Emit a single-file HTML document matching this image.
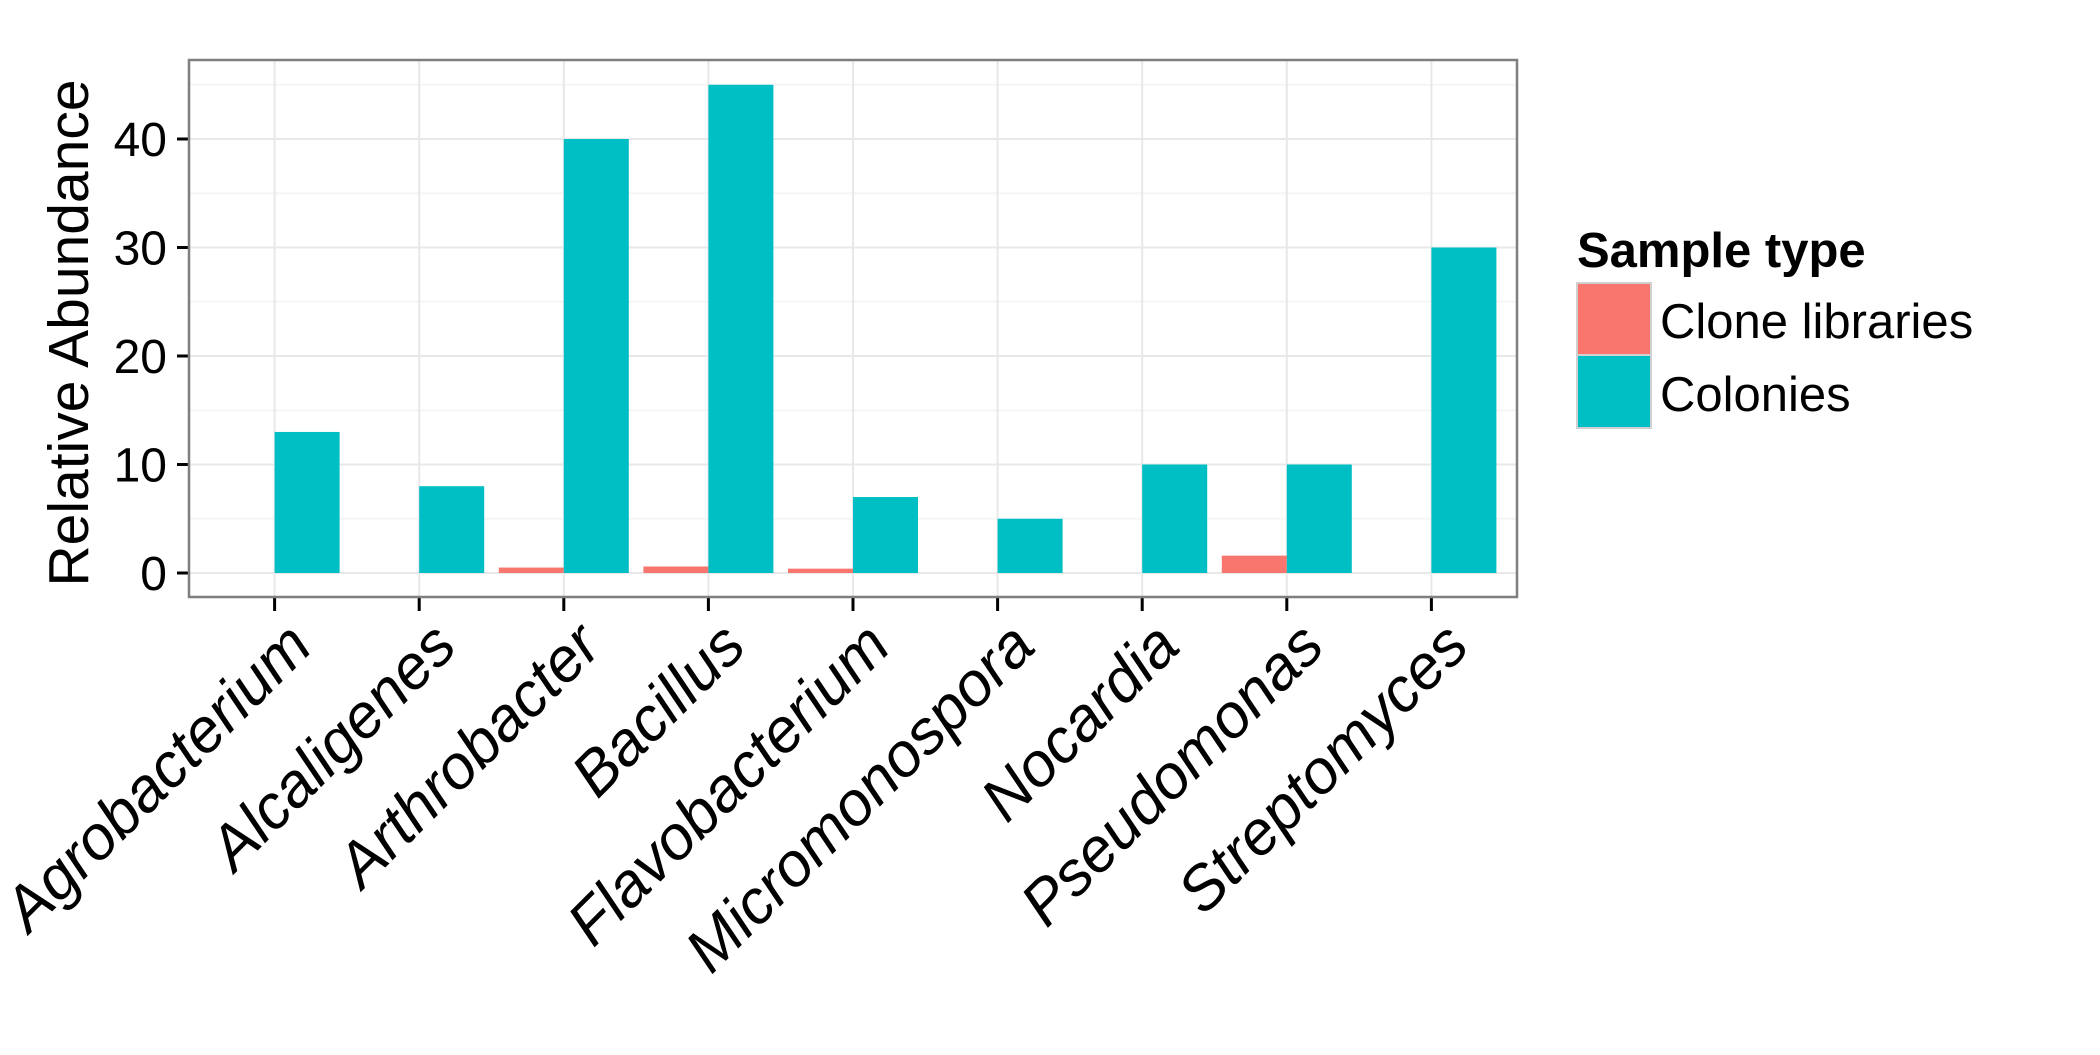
<!DOCTYPE html>
<html><head><meta charset="utf-8"><style>
body{margin:0;background:#fff;}
svg text{font-family:"Liberation Sans",sans-serif;}
</style></head><body>
<svg id="chart" width="2100" height="1050" xmlns="http://www.w3.org/2000/svg">
<rect width="2100" height="1050" fill="#fff"/>
<g id="grid"></g><g id="bars"></g><g id="axes"></g>
<text transform="translate(88,333) rotate(-90)" text-anchor="middle" font-size="57">Relative Abundance</text>
<g>
<text x="1577" y="267" font-size="49" font-weight="bold">Sample type</text>
<rect x="1577" y="283" width="74" height="72" fill="#F8766D" stroke="#d0d0d0" stroke-width="2"/>
<rect x="1577" y="355" width="74" height="73" fill="#00BFC4" stroke="#d0d0d0" stroke-width="2"/>
<text x="1660" y="338" font-size="49">Clone libraries</text>
<text x="1660" y="411" font-size="49">Colonies</text>
</g>
</svg>
<script>
const categories=["Agrobacterium","Alcaligenes","Arthrobacter","Bacillus","Flavobacterium","Micromonospora","Nocardia","Pseudomonas","Streptomyces"];
const cloneValues=[0,0,0.5,0.6,0.4,0,0,1.6,0];
const colonyValues=[13,8,40,45,7,5,10,10,30];
const yTicks=[0,10,20,30,40];
const yMinor=[5,15,25,35,45];
const NS="http://www.w3.org/2000/svg";
const L=189,R=1517,T=60,B=597;
function y(v){return 573-v*10.85;}
function x(i){return 274.6+144.6*i;}
const bw=65;
function mk(tag,attrs,parent){const e=document.createElementNS(NS,tag);for(const k in attrs)e.setAttribute(k,attrs[k]);parent.appendChild(e);return e;}
const grid=document.getElementById('grid'),bars=document.getElementById('bars'),axes=document.getElementById('axes');
mk('rect',{x:L,y:T,width:R-L,height:B-T,fill:'#fff'},grid);
yMinor.forEach(v=>{const l=mk('line',{x1:L,x2:R,y1:y(v),y2:y(v),stroke:'#f5f5f5','stroke-width':2},grid);

});
yTicks.forEach(v=>{const l=mk('line',{x1:L,x2:R,y1:y(v),y2:y(v),stroke:'#e8e8e8','stroke-width':2},grid);


const t=mk('line',{x1:L-12,x2:L,y1:y(v),y2:y(v),stroke:'#000','stroke-width':3},axes);


const tx=mk('text',{x:167,y:y(v)+17,'text-anchor':'end','font-size':48},axes);tx.textContent=v;

});
categories.forEach((c,i)=>{const l=mk('line',{x1:x(i),x2:x(i),y1:T,y2:B,stroke:'#e8e8e8','stroke-width':2},grid);


const b1=mk('rect',{x:x(i)-bw,y:Math.min(y(cloneValues[i]),y(0)),width:bw,height:Math.abs(y(0)-y(cloneValues[i])),fill:'#F8766D'},bars);


const b2=mk('rect',{x:x(i),y:Math.min(y(colonyValues[i]),y(0)),width:bw,height:Math.abs(y(0)-y(colonyValues[i])),fill:'#00BFC4'},bars);


const t=mk('line',{x1:x(i),x2:x(i),y1:B,y2:B+14,stroke:'#000','stroke-width':3},axes);


const tx=mk('text',{transform:`translate(${x(i)+40},${B+52}) rotate(-45)`,'text-anchor':'end','font-size':62,'font-style':'italic'},axes);tx.textContent=c;

});
const border=mk('rect',{x:L,y:T,width:R-L,height:B-T,fill:'none',stroke:'#7f7f7f','stroke-width':2.5},axes);


</script>
</body></html>
